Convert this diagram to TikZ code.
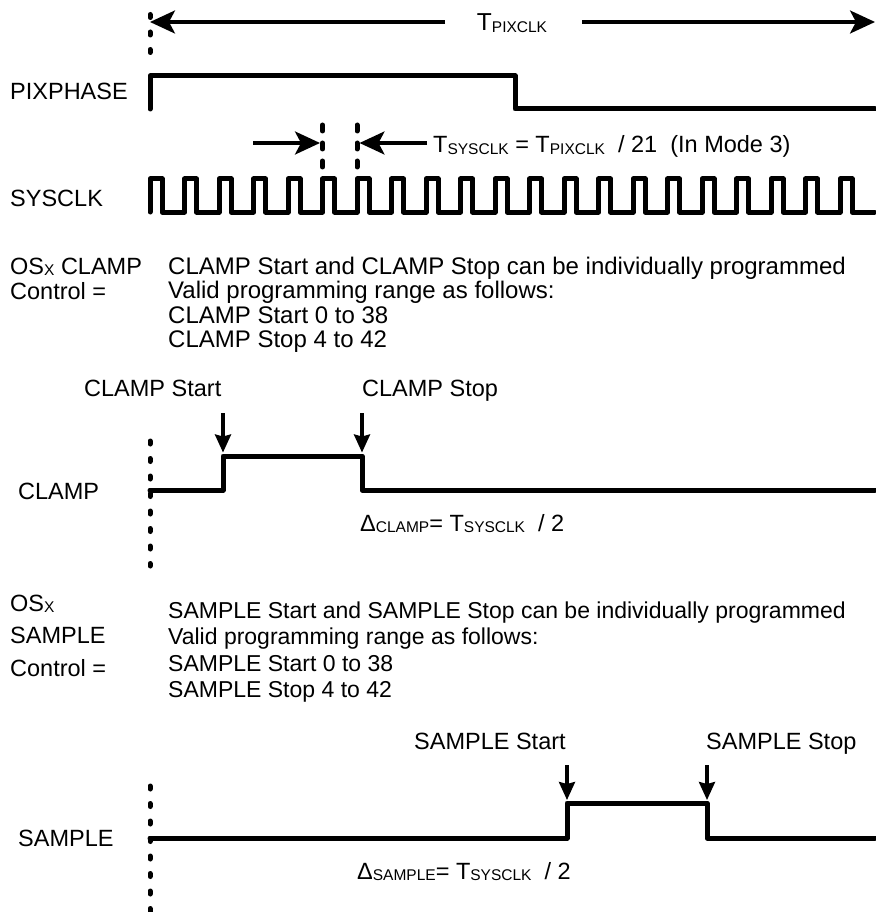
\documentclass[tikz,border=0pt]{standalone}
\usepackage{fontspec}
\setmainfont{Liberation Sans}
\usetikzlibrary{arrows.meta}
\newcommand\subx[1]{\raisebox{-1.2pt}{\fontsize{15.5}{15.5}\selectfont #1}}
\begin{document}
\begin{tikzpicture}[x=1pt,y=-1pt,
  wave/.style={line width=5pt, line join=round, line cap=round},
  guide/.style={line width=5pt, line cap=round, dash pattern=on 3pt off 14.5pt},
  guidelong/.style={line width=5pt, line cap=round, dash pattern=on 6pt off 12pt},
  lbl/.style={anchor=base west, inner sep=0pt, font=\fontsize{23.5}{28}\selectfont},
  desc/.style={anchor=base west, inner sep=0pt, font=\fontsize{24}{28}\selectfont},
  sdesc/.style={anchor=base west, inner sep=0pt, font=\fontsize{23}{28}\selectfont},
  bigarrow/.style={line width=3.2pt, -{Stealth[length=25pt,width=23pt,inset=6pt]}},
  downarrow/.style={line width=3.2pt, -{Stealth[length=18pt,width=16pt,inset=2pt]}},
]
\useasboundingbox (0,0) rectangle (875,912);
\fill[white] (0,0) rectangle (875,912);

% ---- T_PIXCLK
\draw[guide] (150,14.5) -- (150,55);
\node[lbl, anchor=base, font=\fontsize{24.5}{28}\selectfont] (tp) at (512,31) {T\subx{PIXCLK}};
\coordinate (tpl) at (445,22);
\coordinate (tpr) at (582,22);
\coordinate (tipl) at (150,22);
\coordinate (tipr) at (875,22);
\draw[bigarrow] (tpl) -- (tipl);
\draw[bigarrow] (tpr) -- (tipr);

% ---- PIXPHASE
\node[lbl] (pix) at (10,100) {PIXPHASE};
\draw[wave] (150,109) -- (150,76) -- (515,76) -- (515,109) -- (875,109);

% ---- SYSCLK markers
\draw[guidelong] (322.5,125) -- (322.5,170);
\draw[guidelong] (357,125) -- (357,170);
\coordinate (ma) at (253,143);
\coordinate (mat) at (320,143);
\coordinate (mb) at (427,143);
\coordinate (mbt) at (359.5,143);
\draw[bigarrow] (ma) -- (mat);
\draw[bigarrow] (mb) -- (mbt);
\node[lbl] (ts) at (433,153) {T\subx{SYSCLK} = T\subx{PIXCLK} \ / 21 \ (In Mode 3)};

% ---- SYSCLK
\node[lbl] (sys) at (10,206) {SYSCLK};
\draw[wave] (150,212) \foreach \k in {0,...,20} {
  -- ({150+34.5*\k},179) -- ({162+34.5*\k},179) -- ({162+34.5*\k},212) -- ({184.5+34.5*\k},212) };

% ---- CLAMP control text
\node[lbl] (oc1) at (10,274) {OS\subx{X} CLAMP};
\node[lbl] (oc2) at (10,299) {Control =};
\node[desc] (c1) at (168,274) {CLAMP Start and CLAMP Stop can be individually programmed};
\node[desc] (c2) at (168,298.5) {Valid programming range as follows:};
\node[desc] (c3) at (168,323) {CLAMP Start 0 to 38};
\node[desc] (c4) at (168,347.5) {CLAMP Stop 4 to 42};

% ---- CLAMP waveform
\node[lbl] (cst) at (84,396) {CLAMP Start};
\node[lbl] (csp) at (362,396) {CLAMP Stop};
\coordinate (ca) at (223,413);
\coordinate (cat) at (223,452.5);
\coordinate (cb) at (362,413);
\coordinate (cbt) at (362,452.5);
\draw[downarrow] (ca) -- (cat);
\draw[downarrow] (cb) -- (cbt);
\draw[guide] (150,441) -- (150,566);
\node[lbl] (cl) at (18,499) {CLAMP};
\draw[wave] (150,490) -- (223,490) -- (223,456) -- (362,456) -- (362,490) -- (875,490);
\node[lbl] (dc) at (360,531) {Δ\subx{CLAMP}= T\subx{SYSCLK} \ / 2};

% ---- SAMPLE control text
\node[lbl] (os1) at (10,611) {OS\subx{X}};
\node[lbl] (os2) at (10,643) {SAMPLE};
\node[lbl] (os3) at (10,676) {Control =};
\node[sdesc] (s1) at (168,618) {SAMPLE Start and SAMPLE Stop can be individually programmed};
\node[sdesc] (s2) at (168,644.5) {Valid programming range as follows:};
\node[sdesc] (s3) at (168,671) {SAMPLE Start 0 to 38};
\node[sdesc] (s4) at (168,697.5) {SAMPLE Stop 4 to 42};

% ---- SAMPLE waveform
\node[lbl] (sst) at (414,749) {SAMPLE Start};
\node[lbl] (ssp) at (706,749) {SAMPLE Stop};
\coordinate (sa) at (567,765);
\coordinate (sat) at (567,800);
\coordinate (sb) at (707,765);
\coordinate (sbt) at (707,800);
\draw[downarrow] (sa) -- (sat);
\draw[downarrow] (sb) -- (sbt);
\draw[guide] (150,786) -- (150,912);
\node[lbl] (sl) at (18,846) {SAMPLE};
\draw[wave] (150,838) -- (567,838) -- (567,803) -- (707,803) -- (707,838) -- (875,838);
\node[lbl] (ds) at (357,879) {Δ\subx{SAMPLE}= T\subx{SYSCLK} \ / 2};
\end{tikzpicture}
\end{document}
